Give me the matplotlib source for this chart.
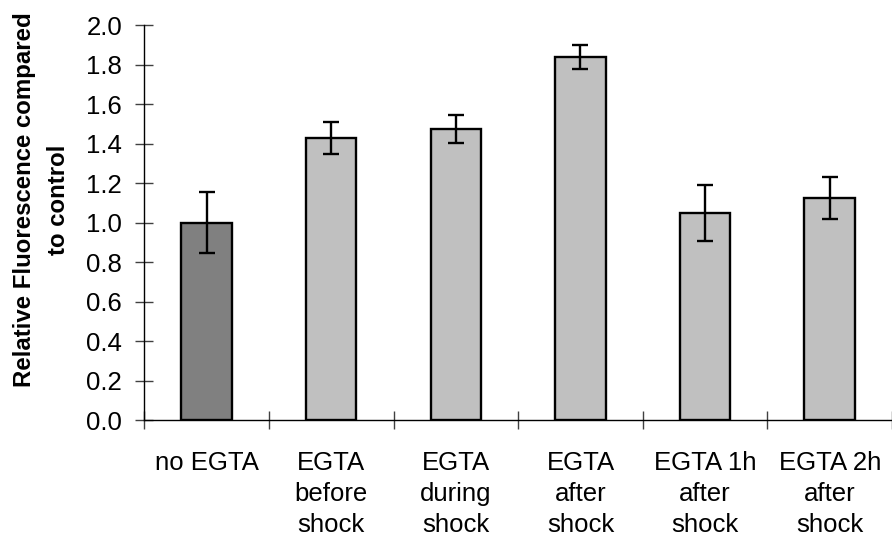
import matplotlib
matplotlib.use("Agg")
import matplotlib.pyplot as plt
import numpy as np

categories = ["no EGTA", "EGTA\nbefore\nshock", "EGTA\nduring\nshock",
              "EGTA\nafter\nshock", "EGTA 1h\nafter\nshock", "EGTA 2h\nafter\nshock"]
values = [1.00, 1.43, 1.475, 1.84, 1.05, 1.126]
errors = [0.155, 0.082, 0.070, 0.062, 0.141, 0.105]
bar_colors = ["#808080", "#c0c0c0", "#c0c0c0", "#c0c0c0", "#c0c0c0", "#c0c0c0"]
yticks = [0.0, 0.2, 0.4, 0.6, 0.8, 1.0, 1.2, 1.4, 1.6, 1.8, 2.0]
ylabel = "Relative Fluorescence compared\nto control"

plt.rcParams['font.family'] = ['Liberation Sans', 'DejaVu Sans']

W, H = 892, 540
fig = plt.figure(figsize=(W / 100, H / 100), dpi=100)
left, right = 144.3, 892.0
bottom_px, top_px = 420.3, 25.3
ax = fig.add_axes([left / W, 1 - bottom_px / H, (right - left) / W, (bottom_px - top_px) / H])

x = np.arange(len(categories))
ax.bar(x, values, width=0.405, color=bar_colors, edgecolor="black", linewidth=1.7, zorder=2)
ax.errorbar(x, values, yerr=errors, fmt="none", ecolor="black", elinewidth=1.7,
            capsize=5.6, capthick=1.7, zorder=3)

cat_w = 126.0
ax.set_xlim(-0.5, -0.5 + (right - left) / cat_w)
ax.set_ylim(0, 2.0)

ax.spines["top"].set_visible(False)
ax.spines["right"].set_visible(False)
for s in ("left", "bottom"):
    ax.spines[s].set_linewidth(1.0)
    ax.spines[s].set_color("black")
ax.spines["left"].set_bounds(0, 2.0)

ax.set_yticks(yticks)
ax.set_yticklabels([f"{v:.1f}" for v in yticks])
ax.tick_params(axis="y", direction="inout", length=13, width=1.0, color="#404040",
               labelsize=18.5, pad=9.5)

ax.set_xticks(x)
ax.set_xticklabels(categories, fontsize=18.5, linespacing=1.36)
ax.set_xticks(np.arange(-0.5, 6.0, 1.0), minor=True)
ax.tick_params(axis="x", which="major", length=0, pad=22)
ax.tick_params(axis="x", which="minor", direction="inout", length=13, width=1.0, color="#404040")

fig.text(41.5 / W, 1 - 200 / H, ylabel, rotation=90, ha="center", va="center",
         multialignment="center", fontsize=17.3, fontweight="bold", linespacing=1.6)

fig.savefig("out.png", dpi=100)
